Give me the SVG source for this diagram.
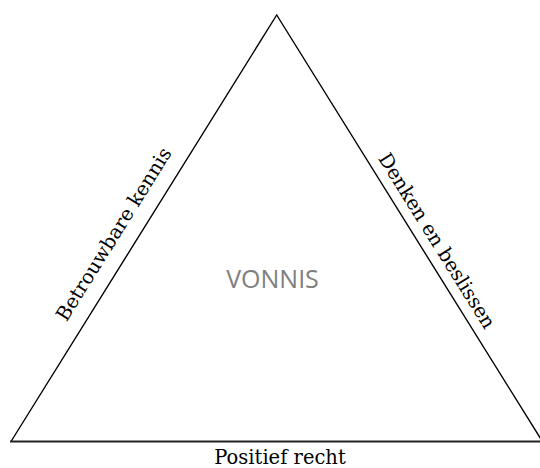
<svg xmlns="http://www.w3.org/2000/svg" width="540" height="468" viewBox="0 0 540 468">
<style>
.side{stroke:#000;stroke-width:1.4;fill:none;stroke-linecap:round}
.base{stroke:#222;stroke-width:2;fill:none}
.lbl{font-family:"DejaVu Serif","Liberation Serif",serif;font-size:19.5px;fill:#000;text-anchor:middle}
.center{font-family:"Open Sans","Liberation Sans",sans-serif;font-size:25px;fill:#7f7f7f;text-anchor:middle}
</style>
<rect width="540" height="468" fill="#fff"/>
<g id="connectors">
<line class="side" x1="11" y1="441.5" x2="276.7" y2="15"/>
<line class="side" x1="276.7" y1="15" x2="542.4" y2="441.5"/>
<line class="base" x1="10" y1="441.5" x2="540" y2="441.5"/>
</g>
<g id="center-label"><text class="center" x="272.5" y="287.5">VONNIS</text></g>
<g id="left-label"><text class="lbl" transform="translate(132.9,246.1) rotate(-58.05)" x="0" y="-16">Betrouwbare kennis</text></g>
<g id="right-label"><text class="lbl" transform="translate(422.8,249.5) rotate(58.05)" x="0" y="-10">Denken en beslissen</text></g>
<g id="bottom-label"><text class="lbl" x="280" y="464">Positief recht</text></g>
</svg>
